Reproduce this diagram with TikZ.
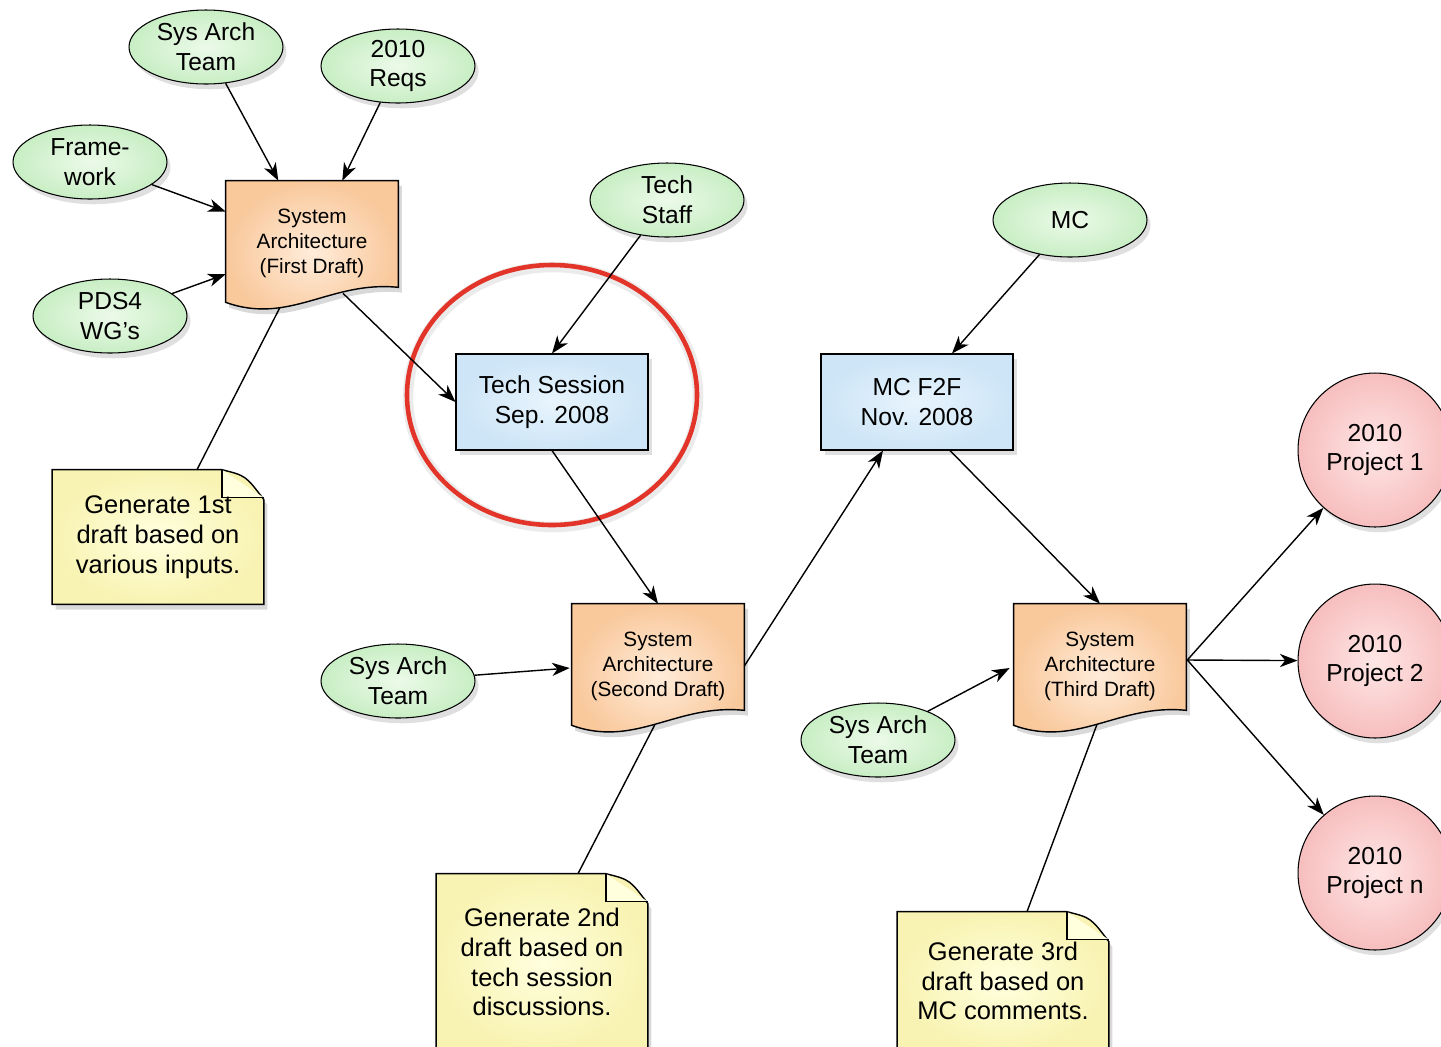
\documentclass[tikz,border=0pt]{standalone}
\usepackage{fontspec}
\setmainfont{Liberation Sans}
\usetikzlibrary{shapes.geometric,shadows,backgrounds,calc,arrows.meta}

\definecolor{bubbleout}{RGB}{200,238,196}
\definecolor{bubblein}{RGB}{236,250,233}
\definecolor{docout}{RGB}{249,200,155}
\definecolor{docin}{RGB}{255,236,218}
\definecolor{sessout}{RGB}{205,229,247}
\definecolor{sessin}{RGB}{232,244,253}
\definecolor{noteout}{RGB}{248,243,178}
\definecolor{notein}{RGB}{255,255,222}
\definecolor{projout}{RGB}{247,190,190}
\definecolor{projin}{RGB}{255,230,230}
\definecolor{ringred}{RGB}{226,52,40}

\tikzset{
  bubble/.style={ellipse, draw, line width=0.6pt, minimum width=3.08cm, minimum height=1.48cm,
    inner sep=0pt, align=center, inner color=bubblein, outer color=bubbleout,
    font=\fontsize{14}{17}\selectfont, drop shadow={opacity=0.25,shadow xshift=2pt,shadow yshift=-3pt}},
  session/.style={rectangle, draw, line width=0.6pt, minimum width=3.84cm, minimum height=1.92cm,
    inner sep=0pt, align=center, inner color=sessin, outer color=sessout,
    font=\fontsize{14}{17}\selectfont, drop shadow={opacity=0.25,shadow xshift=2pt,shadow yshift=-3pt}},
  project/.style={circle, draw, line width=0.6pt, minimum size=3.08cm, inner sep=0pt, align=center,
    inner color=projin, outer color=projout,
    font=\fontsize{14}{17}\selectfont, drop shadow={opacity=0.25,shadow xshift=2pt,shadow yshift=-3pt}},
  docnode/.style={rectangle, minimum width=3.44cm, minimum height=2.48cm, inner sep=0pt, align=center,
    font=\fontsize{11.8}{14.2}\selectfont},
  docbody/.style={draw, line width=0.8pt, inner color=docin, outer color=docout,
    drop shadow={opacity=0.3,shadow xshift=2pt,shadow yshift=-3pt}},
  notenode/.style={rectangle, minimum width=4.22cm, inner sep=0pt, align=center,
    font=\fontsize{14.5}{17}\selectfont},
  notebody/.style={draw, line width=0.8pt, inner color=notein, outer color=noteout,
    drop shadow={opacity=0.3,shadow xshift=2pt,shadow yshift=-3pt}},
  flow/.style={line width=0.8pt, -{Stealth[length=10pt,width=7.5pt,inset=3pt]}},
  tie/.style={line width=0.8pt}
}

% document page with a wavy bottom, drawn behind the node
\newcommand{\docpage}[1]{%
  \begin{pgfonlayer}{background}
  \path[docbody] (#1.north west) -- (#1.north east) -- ($(#1.south east)+(0,-18)$)
    .. controls ($(#1.south east)+(-68,-25)$) and ($(#1.south west)+(64,20)$) .. ($(#1.south west)+(0,-3)$) -- cycle;
  \end{pgfonlayer}}

% sticky note with a folded corner
\newcommand{\stickynote}[1]{%
  \begin{pgfonlayer}{background}
  \path[notebody] (#1.north west) -- ($(#1.north east)+(-42,0)$)
    .. controls ($(#1.north east)+(-18,6)$) .. ($(#1.north east)+(0,30)$) -- (#1.south east) -- (#1.south west) -- cycle;
  \draw[tie, fill=notein] ($(#1.north east)+(-42,0)$) -- ++(0,28) -- ($(#1.north east)+(0,28)$);
  \end{pgfonlayer}}

\begin{document}
\begin{tikzpicture}[x=0.02cm, y={(0cm,-0.02cm)}]
  \useasboundingbox (0,0) rectangle (1441,1046);

  % highlight
  \draw[black!8, line width=6pt] (553,397) ellipse [x radius=145, y radius=130];
  \draw[ringred, line width=2.6pt] (552,395) ellipse [x radius=145, y radius=130];

  % inputs to the first draft
  \node[bubble] (sat1) at (206,47) {Sys Arch\\Team};
  \node[bubble] (req) at (398,66) {2010\\Reqs};
  \node[bubble] (fw) at (90,162) {Frame-\\work};
  \node[bubble] (pds) at (110,316) {PDS4\\WG's};

  \node[docnode] (d1) at (312,243) {System\\Architecture\\(First Draft)};
  \docpage{d1}
  \node[notenode, minimum height=2.68cm] (n1) at (158,537) {Generate 1st\\draft based on\\various inputs.};
  \stickynote{n1}

  % tech session
  \node[bubble] (tech) at (667,200) {Tech\\Staff};
  \node[session] (ts) at (552,402) {Tech Session\\Sep. 2008};

  \node[bubble] (sa2) at (398,681) {Sys Arch\\Team};
  \node[docnode] (d2) at (658,666) {System\\Architecture\\(Second Draft)};
  \docpage{d2}
  \node[notenode, minimum height=3.52cm] (n2) at (542,962) {Generate 2nd\\draft based on\\tech session\\discussions.};
  \stickynote{n2}

  % MC face to face
  \node[bubble] (mc) at (1070,220) {MC};
  \node[session] (mcf) at (917,402) {MC F2F\\Nov. 2008};

  \node[bubble] (sa3) at (878,740) {Sys Arch\\Team};
  \node[docnode] (d3) at (1100,666) {System\\Architecture\\(Third Draft)};
  \docpage{d3}
  \node[notenode, minimum height=2.76cm] (n3) at (1003,981) {Generate 3rd\\draft based on\\MC comments.};
  \stickynote{n3}

  % projects
  \node[project] (p1) at (1375,450) {2010\\Project 1};
  \node[project] (p2) at (1375,661) {2010\\Project 2};
  \node[project] (pn) at (1375,873) {2010\\Project n};

  % arrows
  \draw[flow] (sat1) -- (d1);
  \draw[flow] (req) -- (d1);
  \draw[flow] (fw) -- (d1);
  \draw[flow] (pds) -- (d1);
  \draw[flow] ($(d1.south)+(31,-12)$) -- (ts.west);
  \draw[flow] (tech) -- (ts.north);
  \draw[flow] (ts.south) -- (d2.north);
  \draw[flow] (sa2) -- ($(d2.west)+(-2,2)$);
  \draw[flow] (d2.east) -- ($(mcf.south)+(-34,0)$);
  \draw[flow] (mc) -- ($(mcf.north)+(35,0)$);
  \draw[flow] ($(mcf.south)+(33,0)$) -- (d3.north);
  \draw[flow] (sa3.30) -- ($(d3.west)+(-4,2)$);
  \draw[flow] ($(d3.east)+(1,-6)$) -- (p1);
  \draw[flow] ($(d3.east)+(1,-6)$) -- (p2);
  \draw[flow] ($(d3.east)+(1,-6)$) -- (pn);

  % notes
  \draw[tie] ($(d1.south)+(-32,2)$) -- ($(n1.north)+(39,0)$);
  \draw[tie] ($(d2.south)+(-3,-4)$) -- ($(n2.north)+(36,0)$);
  \draw[tie] ($(d3.south)+(-3,-4)$) -- ($(n3.north)+(24,0)$);
\end{tikzpicture}
\end{document}
